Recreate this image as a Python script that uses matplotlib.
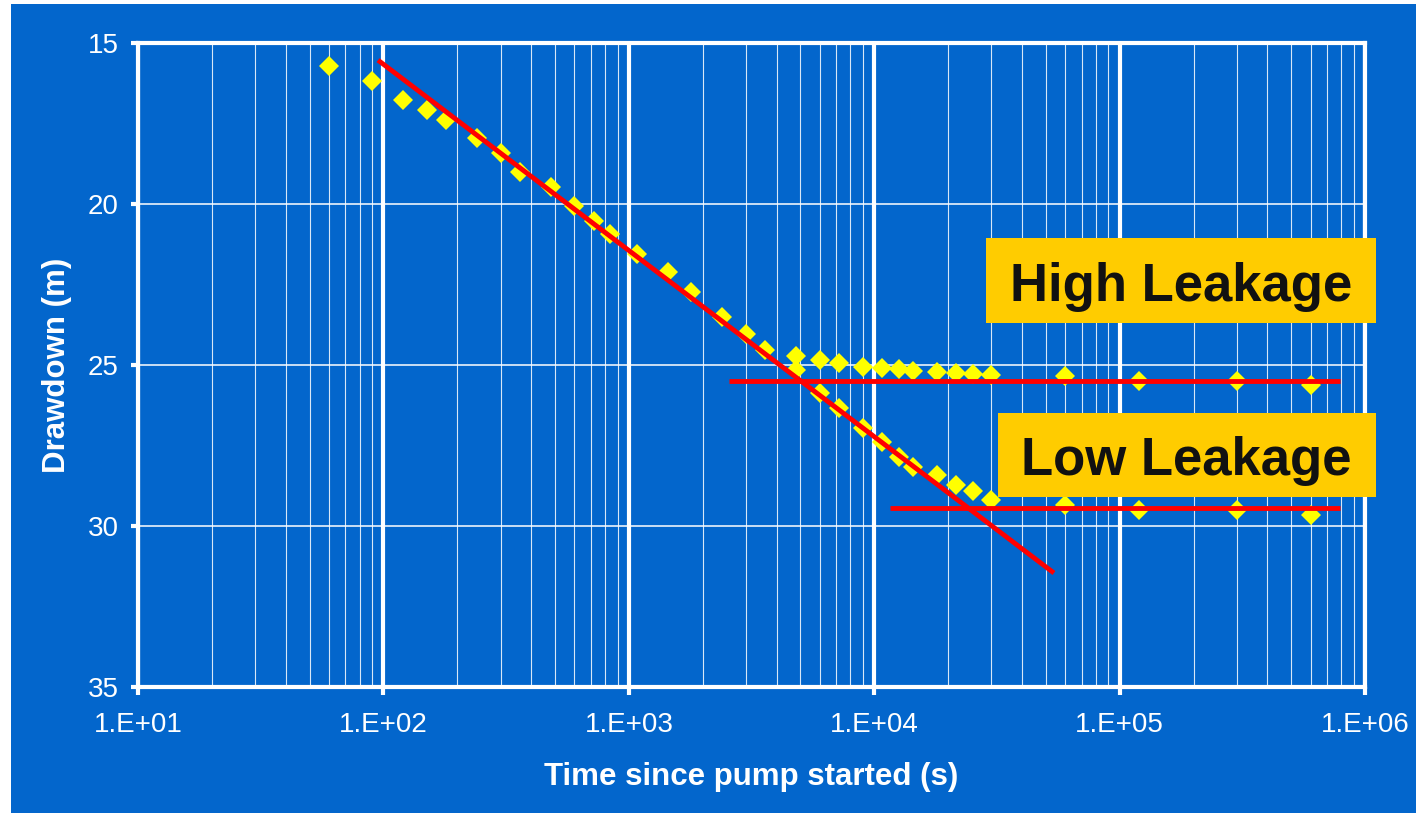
import matplotlib
matplotlib.use("Agg")
import matplotlib.pyplot as plt
from matplotlib.patches import Rectangle
from matplotlib.ticker import FixedLocator, NullFormatter

plt.rcParams['font.family'] = ['Liberation Sans', 'DejaVu Sans']

# time (s) and drawdown (m) before the curves split
t_early = [60, 90, 120, 150, 180, 240, 300, 360, 480, 600, 720, 840,
           1080, 1440, 1800, 2400, 3000, 3600]
s_early = [15.71, 16.18, 16.77, 17.08, 17.39, 17.95, 18.42, 19.0, 19.47,
           20.06, 20.53, 20.93, 21.55, 22.11, 22.73, 23.51, 24.05, 24.53]

# after the split: high leakage levels off early, low leakage later
t_late = [4800, 6000, 7200, 9000, 10800, 12600, 14400, 18000, 21600,
          25200, 30000, 60000, 120000, 300000, 600000]
s_high = [24.72, 24.84, 24.94, 25.06, 25.09, 25.12, 25.19, 25.22, 25.25,
          25.28, 25.31, 25.34, 25.5, 25.5, 25.62]
s_low = [25.16, 25.87, 26.34, 26.96, 27.39, 27.86, 28.17, 28.42, 28.73,
         28.91, 29.19, 29.35, 29.5, 29.5, 29.66]

# straight-line fits (red)
fit_t = [95, 54000]
fit_s = [15.53, 31.46]
high_t = [2550, 790000]
high_s = [25.5, 25.5]
low_t = [11600, 790000]
low_s = [29.45, 29.45]

xticks = [1e1, 1e2, 1e3, 1e4, 1e5, 1e6]
xlabels = ['1.E+01', '1.E+02', '1.E+03', '1.E+04', '1.E+05', '1.E+06']
yticks = [15, 20, 25, 30, 35]

blue = '#0366CC'
yellow = '#FFFF00'
red = '#FF0000'
box = '#FFCC00'

fig = plt.figure(figsize=(14.16, 8.13), dpi=100, facecolor='white')
fig.patches.append(Rectangle((11 / 1416, 0), 1, 1 - 4 / 813, transform=fig.transFigure,
                             facecolor=blue, edgecolor='none', zorder=-10))
ax = fig.add_axes([0.0975, 0.155, 0.8665, 0.792])
ax.set_facecolor(blue)

ax.set_xscale('log')
ax.set_xlim(1e1, 1e6)
ax.set_ylim(35, 15)

# grid
ax.xaxis.set_minor_locator(FixedLocator([m * 10 ** d for d in range(1, 6) for m in range(2, 10)]))
ax.xaxis.set_minor_formatter(NullFormatter())
ax.grid(True, which='minor', axis='x', color='white', lw=0.8, alpha=0.85)
ax.grid(True, which='major', axis='x', color='white', lw=3)
ax.grid(True, which='major', axis='y', color='white', lw=1.1)
ax.set_axisbelow(True)

ax.plot(t_early, s_early, 'D', color=yellow, ms=10.5, mew=0, zorder=3)
ax.plot(t_late, s_high, 'D', color=yellow, ms=10.5, mew=0, zorder=3)
ax.plot(t_late, s_low, 'D', color=yellow, ms=10.5, mew=0, zorder=3)

ax.plot(fit_t, fit_s, color=red, lw=3.5, zorder=4, solid_capstyle='butt')
ax.plot(high_t, high_s, color=red, lw=3.5, zorder=4, solid_capstyle='butt')
ax.plot(low_t, low_s, color=red, lw=3.5, zorder=4, solid_capstyle='butt')

ax.set_xticks(xticks)
ax.set_xticklabels(xlabels)
ax.set_yticks(yticks)
ax.tick_params(axis='x', which='major', direction='out', length=6, width=3,
               color='white', labelcolor='white', labelsize=20, pad=12)
ax.tick_params(axis='x', which='minor', length=0)
ax.tick_params(axis='y', direction='out', length=5, width=3,
               color='white', labelcolor='white', labelsize=20, pad=9)
for sp in ax.spines.values():
    sp.set_color('white')
    sp.set_linewidth(3)

ax.set_xlabel('Time since pump started (s)', color='white', fontsize=22.5,
              fontweight='bold', labelpad=17)
ax.set_ylabel('Drawdown (m)', color='white', fontsize=22.5,
              fontweight='bold', labelpad=11)

# label boxes
ax.add_patch(Rectangle((0.691, 0.565), 0.318, 0.132, transform=ax.transAxes,
                       facecolor=box, edgecolor='none', clip_on=False, zorder=6))
ax.text(0.850, 0.599, 'High Leakage', transform=ax.transAxes, ha='center',
        va='baseline', fontsize=38, fontweight='bold', color='#111111', zorder=7)
ax.add_patch(Rectangle((0.701, 0.295), 0.308, 0.130, transform=ax.transAxes,
                       facecolor=box, edgecolor='none', clip_on=False, zorder=6))
ax.text(0.854, 0.329, 'Low Leakage', transform=ax.transAxes, ha='center',
        va='baseline', fontsize=38, fontweight='bold', color='#111111', zorder=7)

fig.savefig('out.png', dpi=100, facecolor=fig.get_facecolor())
